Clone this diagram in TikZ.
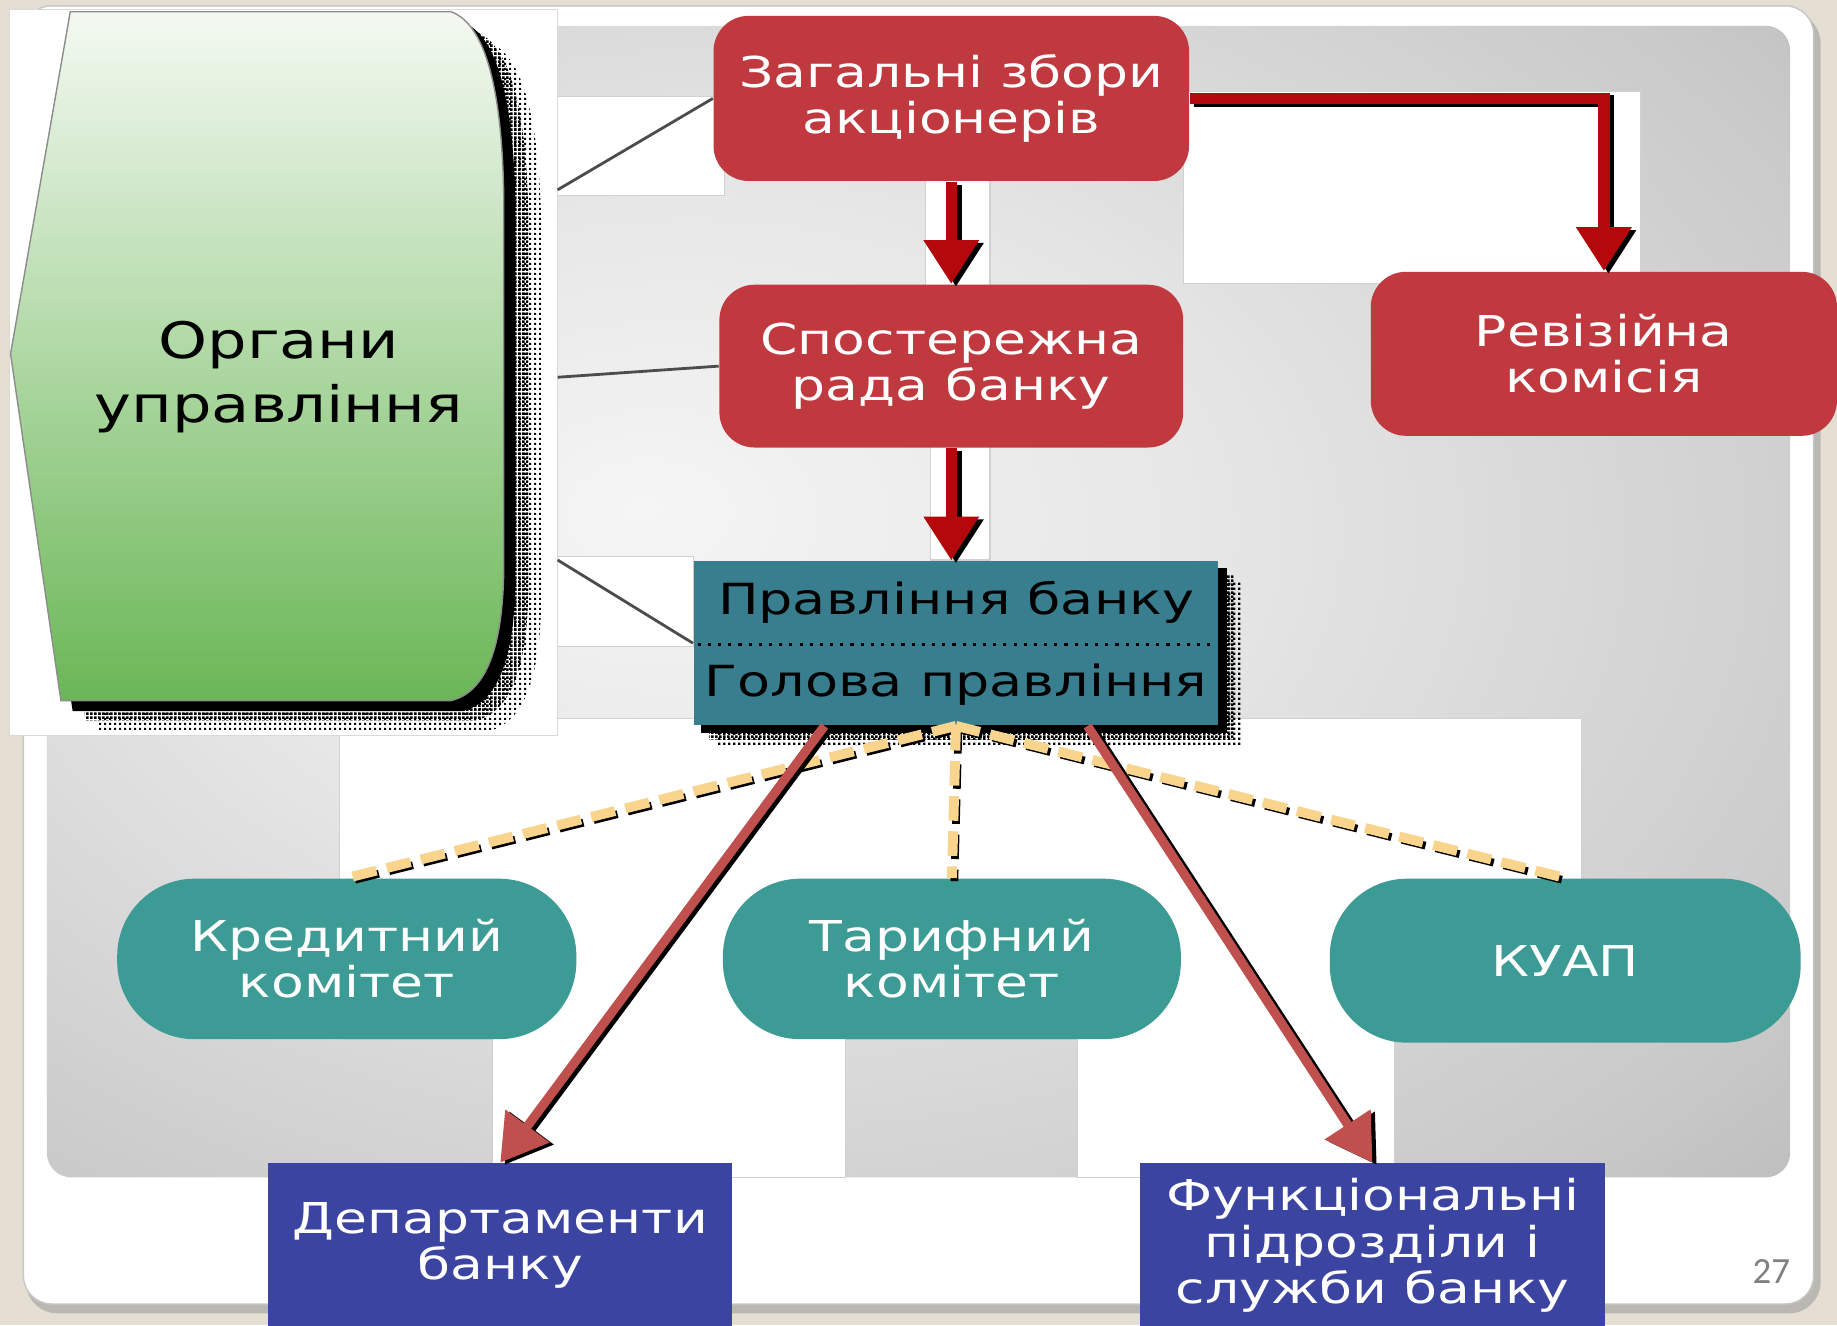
\documentclass[tikz,border=0pt]{standalone}
\usepackage{fontspec}
\setmainfont{DejaVu Sans}
\newfontfamily\gfont[FakeStretch=1.26]{DejaVu Sans}
\newfontfamily\ofont[FakeStretch=1.24]{DejaVu Sans}
\newfontfamily\nfont{Carlito}
\usetikzlibrary{arrows.meta,patterns,calc}

\pgfdeclarepatternformonly{shadeA}{\pgfpointorigin}{\pgfpoint{1.1pt}{1.1pt}}{\pgfpoint{1.1pt}{1.1pt}}{\pgfpathrectangle{\pgfpointorigin}{\pgfpoint{0.8pt}{0.8pt}}\pgfusepath{fill}}
\pgfdeclarepatternformonly{shadeB}{\pgfpointorigin}{\pgfpoint{1.4pt}{1.4pt}}{\pgfpoint{1.4pt}{1.4pt}}{\pgfpathrectangle{\pgfpointorigin}{\pgfpoint{0.65pt}{0.65pt}}\pgfusepath{fill}}

\definecolor{bgbeige}{RGB}{228,222,211}
\definecolor{redboxc}{RGB}{192,57,62}
\definecolor{darkredc}{RGB}{180,8,12}
\definecolor{pravc}{RGB}{56,126,143}
\definecolor{tealc}{RGB}{60,155,148}
\definecolor{bluec}{RGB}{59,68,160}
\definecolor{brownc}{RGB}{192,80,77}
\definecolor{yelc}{RGB}{248,212,140}
\definecolor{greentop}{RGB}{244,249,242}
\definecolor{greenbot}{RGB}{106,183,86}
\definecolor{pan0}{RGB}{245,245,245}
\definecolor{pan1}{RGB}{230,230,230}
\definecolor{pan2}{RGB}{200,200,200}
\definecolor{pan3}{RGB}{168,168,168}
\definecolor{pan4}{RGB}{142,142,142}
\pgfdeclareradialshading{panelrad}{\pgfpoint{-8bp}{4bp}}{color(0bp)=(pan0); color(15bp)=(pan1); color(35bp)=(pan2); color(50bp)=(pan3); color(72bp)=(pan4)}

\tikzset{
  boxtext/.style={text=white, align=center, font=\gfont\fontsize{12.1}{13.2}\selectfont},
  redbox/.style={fill=redboxc, rounded corners=10pt, inner sep=0pt, boxtext},
  tealel/.style={fill=tealc, rounded corners=22pt, inner sep=0pt, boxtext},
  bluebox/.style={fill=bluec, inner sep=0pt, boxtext},
  pravbox/.style={fill=pravc, inner sep=0pt, text=black, align=center, font=\gfont\fontsize{12.2}{23.3}\selectfont},
  whiterect/.style={fill=white, draw=black!18, line width=0.3pt},
  darkarr/.style={draw=darkredc, line width=3.3pt, -{Triangle[width=15pt,length=12.5pt]}},
  darkshadow/.style={draw=black, line width=3.3pt, -{Triangle[width=15pt,length=12.5pt]}, transform canvas={xshift=1.3pt,yshift=-0.8pt}},
  brownarr/.style={draw=brownc, line width=2.6pt, -{Triangle[width=15pt,length=13pt]}},
  brownshadow/.style={draw=black, line width=2.6pt, -{Triangle[width=15pt,length=13pt]}, transform canvas={xshift=1.2pt,yshift=-0.6pt}},
  yeldash/.style={draw=yelc, line width=2.8pt, dash pattern=on 7pt off 3pt},
  yelshadow/.style={draw=black, line width=2.2pt, dash pattern=on 7pt off 3pt, transform canvas={xshift=0.7pt,yshift=-0.9pt}},
  thinln/.style={draw=black!70, line width=0.8pt},
  gshape/.style={insert path={(60,10) -- (385,10) .. controls (418,22) and (429,90) .. (430,170) -- (430,480) .. controls (430,545) and (418,590) .. (385,598) -- (52,598) -- (9,302) -- cycle}}
}

\begin{document}
\begin{tikzpicture}[x=0.011716cm,y=-0.011716cm]
\useasboundingbox (0,0) rectangle (1568,1131);
\fill[bgbeige] (0,0) rectangle (1568,1131);
% slide
\fill[black!40, opacity=0.55, rounded corners=9pt] (22,10) rectangle (1554,1121);
\fill[white, draw=black!22, line width=0.4pt, rounded corners=8pt] (20,5) rectangle (1548,1113);
% gradient panel
\shade[shading=panelrad, rounded corners=7pt] (40,22) rectangle (1528,1005);
% white patches of the picture
\fill[whiterect] (476,82) rectangle (618,167);
\fill[whiterect] (790,150) rectangle (845,245);
\fill[whiterect] (794,380) rectangle (845,478);
\fill[whiterect] (1010,78) rectangle (1400,242);
\fill[whiterect] (476,475) rectangle (592,552);
\fill[whiterect] (290,613) -- (1350,613) -- (1350,887) -- (1190,887) -- (1190,1005) -- (920,1005) -- (920,887) -- (722,887) -- (722,1005) -- (420,1005) -- (420,887) -- (290,887) -- cycle;

% left picture
\node[fill=white, draw=black!15, line width=0.3pt, inner sep=0pt, minimum width=156pt, minimum height=206.67pt] (gframe) at (242,318) {};
\fill[pattern=shadeB, shift={(32,26)}, gshape];
\fill[pattern=shadeA, shift={(21,17)}, gshape];
\fill[black, shift={(10,9)}, gshape];
\shade[top color=greentop, bottom color=greenbot, draw=black!45, line width=0.4pt, gshape];
\node[text=black, align=center, font=\ofont\fontsize{14.3}{18.3}\selectfont] (organy) at (238,322) {Органи\\управління};

% red boxes
\node[redbox, minimum width=135.33pt, minimum height=47pt] (zag) at (812,84) {Загальні збори\\акціонерів};
\node[redbox, minimum width=132pt, minimum height=46.33pt] (spos) at (812,312.5) {Спостережна\\рада банку};
\node[redbox, minimum width=132.67pt, minimum height=46.67pt] (rev) at (1369,302) {Ревізійна\\комісія};

% board box
\fill[pattern=shadeB] (612,496) rectangle (1060,637);
\fill[pattern=shadeA] (605,490) rectangle (1053,631);
\fill[black] (598,485) rectangle (1047,626);
\node[pravbox, minimum width=149.33pt, minimum height=46.67pt] (prav) at (816,549) {Правління банку\\Голова правління};
\draw[black, line width=0.9pt, dotted] ($(prav.west)+(4,1)$) -- ($(prav.east)+(-3,1)$);

% committees
\node[tealel, minimum width=130.67pt, minimum height=45.67pt] (kred) at (296,818.5) {Кредитний\\комітет};
\node[tealel, minimum width=130.33pt, minimum height=45.67pt] (tar) at (812.5,818.5) {Тарифний\\комітет};
\node[tealel, minimum width=134pt, minimum height=46.67pt] (kuap) at (1336,820) {КУАП};

% blue boxes
\node[bluebox, minimum width=132pt, minimum height=46.67pt] (dep) at (427,1063) {Департаменти\\банку};
\node[bluebox, minimum width=132.33pt, minimum height=46.67pt] (fun) at (1171.5,1063) {Функціональні\\підрозділи і\\служби банку};

% page number
\node[text=black!50, font=\nfont\fontsize{10.5}{12}\selectfont] (pnum) at (1512,1085) {27};

% thin lines from the left picture
\coordinate (t1) at (476,162);
\coordinate (t2) at (476,322);
\coordinate (t3) at (476,478);
\draw[thinln] (t1) -- (zag.west);
\draw[thinln] (t2) -- (spos.west);
\draw[thinln] (t3) -- (prav.west);

% dark red arrows
\draw[darkshadow] (zag.south) -- (spos.north);
\draw[darkarr] (zag.south) -- (spos.north);
\draw[darkshadow] (spos.south) -- (spos.south |- prav.north);
\draw[darkarr] (spos.south) -- (spos.south |- prav.north);
\draw[darkshadow] (zag.east) -| (rev.north);
\draw[darkarr] (zag.east) -| (rev.north);

% dashed links to committees
\draw[yelshadow] (prav.south) -- (kred.north);
\draw[yelshadow] (prav.south) -- (tar.north);
\draw[yelshadow] (prav.south) -- (kuap.north);
\draw[yeldash] (prav.south) -- (kred.north);
\draw[yeldash] (prav.south) -- (tar.north);
\draw[yeldash] (prav.south) -- (kuap.north);

% brown arrows
\coordinate (p1) at ($(prav.south west)!0.25!(prav.south east)$);
\coordinate (p2) at ($(prav.south west)!0.75!(prav.south east)$);
\draw[brownshadow] (p1) -- (dep.north);
\draw[brownarr] (p1) -- (dep.north);
\draw[brownshadow] (p2) -- (fun.north);
\draw[brownarr] (p2) -- (fun.north);
\end{tikzpicture}
\end{document}
